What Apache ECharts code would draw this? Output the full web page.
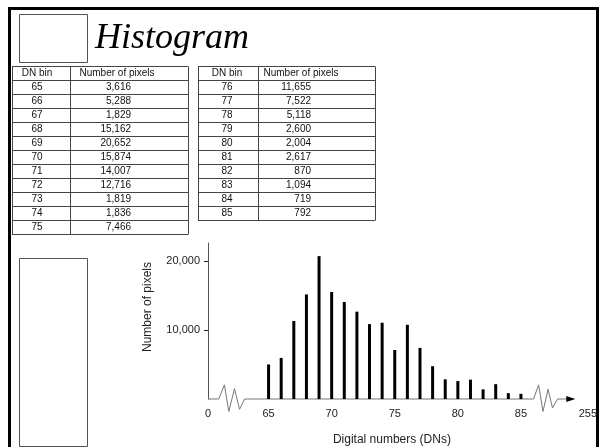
<!DOCTYPE html>
<html>
<head>
<meta charset="utf-8">
<script src="https://cdn.jsdelivr.net/npm/echarts@6.0.0/dist/echarts.min.js"></script>
<style>
body { margin: 0; background: #fff; }
#container { width: 600px; height: 447px; }
</style>
</head>
<body>
<div id="container"></div>
<script>
// bar heights
var dnBins = [65, 66, 67, 68, 69, 70, 71, 72, 73, 74, 75, 76, 77, 78, 79, 80, 81, 82, 83, 84, 85];
var pixelCounts = [5000, 5950, 11300, 15150, 20700, 15500, 14050, 12650, 10850, 11050, 7100, 10750, 7400, 4750, 2850, 2600, 2800, 1400, 2150, 850, 750];

// the two printed tables
var tableBinsLeft = [65, 66, 67, 68, 69, 70, 71, 72, 73, 74, 75];
var tableCountsLeft = [3616, 5288, 1829, 15162, 20652, 15874, 14007, 12716, 1819, 1836, 7466];
var tableBinsRight = [76, 77, 78, 79, 80, 81, 82, 83, 84, 85];
var tableCountsRight = [11655, 7522, 5118, 2600, 2004, 2617, 870, 1094, 719, 792];

// axis ticks (0 and 255 sit either side of the broken axis)
var xTickValues = [60.2, 65, 70, 75, 80, 85, 90.3];
var xTickLabels = ['0', '65', '70', '75', '80', '85', '255'];
var yTickValues = [10000, 20000];

// zigzag axis breaks
var breakLeft = [[61.05, 0], [61.5, 2050], [61.85, -1800], [62.3, 1500], [62.7, -1500], [63.1, 0]];
var breakRight = [[86.0, 0], [86.4, 2050], [86.75, -1800], [87.15, 1400], [87.5, -1300], [87.9, 0]];

var textFont = '"Liberation Sans", Arial, sans-serif';
var lineColor = '#444';

function fmt(v) {
	return v.toLocaleString('en-US');
}

function tableGraphics(x0, xDiv, x1, bins, counts, binX, valX, headX) {
	var top = 66, rowH = 14;
	var n = bins.length + 1;
	var els = [];
	for (var i = 0; i <= n; i++) {
		var y = Math.round(top + i * rowH) + 0.5;
		els.push({ type: 'line', shape: { x1: x0, y1: y, x2: x1, y2: y }, style: { stroke: lineColor, lineWidth: 1 } });
	}
	var bottom = Math.round(top + n * rowH) + 0.5;
	[x0, xDiv, x1].forEach(function (x) {
		els.push({ type: 'line', shape: { x1: x + 0.5, y1: top + 0.5, x2: x + 0.5, y2: bottom }, style: { stroke: lineColor, lineWidth: 1 } });
	});
	var headY = top + rowH / 2;
	els.push({ type: 'text', style: { x: binX, y: headY, text: 'DN bin', font: '10px ' + textFont, fill: '#111', align: 'center', verticalAlign: 'middle' } });
	els.push({ type: 'text', style: { x: headX, y: headY, text: 'Number of pixels', font: '10px ' + textFont, fill: '#111', align: 'center', verticalAlign: 'middle' } });
	for (var j = 0; j < bins.length; j++) {
		var cy = top + (j + 1.5) * rowH;
		els.push({ type: 'text', style: { x: binX, y: cy, text: String(bins[j]), font: '10px ' + textFont, fill: '#111', align: 'center', verticalAlign: 'middle' } });
		els.push({ type: 'text', style: { x: valX, y: cy, text: fmt(counts[j]), font: '10px ' + textFont, fill: '#111', align: 'right', verticalAlign: 'middle' } });
	}
	return els;
}

var barData = dnBins.map(function (d, i) { return [d, pixelCounts[i]]; });
var axisData = [[60.2, 0]].concat(breakLeft, breakRight, [{
	value: [88.95, 0], symbol: 'triangle', symbolSize: [6, 9], symbolRotate: -90,
	itemStyle: { color: '#000' }
}]);

var graphics = [];
graphics = graphics.concat(tableGraphics(12, 70, 188, tableBinsLeft, tableCountsLeft, 37, 131, 117));
graphics = graphics.concat(tableGraphics(198, 258, 375, tableBinsRight, tableCountsRight, 227, 311, 301));
graphics.push({ type: 'rect', shape: { x: 19.5, y: 14.5, width: 68, height: 48 }, style: { fill: '#fff', stroke: '#555', lineWidth: 1 } });
graphics.push({ type: 'rect', shape: { x: 19.5, y: 258.5, width: 68, height: 188 }, style: { fill: 'none', stroke: '#555', lineWidth: 1 } });
graphics.push({ type: 'text', style: { x: 95, y: 21, text: 'Histogram', font: 'italic 36px "Liberation Serif", "Times New Roman", serif', fill: '#000', verticalAlign: 'top' } });
graphics.push({ type: 'rect', z: 100, shape: { x: 9.5, y: 8.5, width: 588, height: 460 }, style: { fill: 'none', stroke: '#000', lineWidth: 3 } });

var option = {
	backgroundColor: '#fff',
	animation: false,
	grid: { left: 208, right: 8, top: 243, bottom: 38 },
	xAxis: {
		type: 'value',
		min: 60.2,
		max: 90.3,
		name: 'Digital numbers (DNs)',
		nameLocation: 'middle',
		nameGap: 35,
		nameTextStyle: { fontFamily: textFont, fontSize: 12, color: '#222', padding: [0, 12, 0, 0] },
		axisLine: { show: false },
		axisTick: { show: false },
		splitLine: { show: false },
		axisLabel: {
			customValues: xTickValues,
			margin: 9,
			fontFamily: textFont,
			fontSize: 11,
			color: '#222',
			formatter: function (v) {
				var i = xTickValues.indexOf(v);
				return i >= 0 ? xTickLabels[i] : '';
			}
		}
	},
	yAxis: {
		type: 'value',
		min: 0,
		max: 22600,
		name: 'Number of pixels',
		nameLocation: 'middle',
		nameGap: 54,
		nameTextStyle: { fontFamily: textFont, fontSize: 12, color: '#222', padding: [0, 0, 0, 28] },
		axisLine: { show: true, lineStyle: { color: '#555', width: 1 } },
		axisTick: { show: true, inside: false, length: 4, customValues: yTickValues, lineStyle: { color: '#222' } },
		splitLine: { show: false },
		axisLabel: {
			customValues: yTickValues,
			margin: 8,
			fontFamily: textFont,
			fontSize: 11,
			color: '#222',
			formatter: function (v) { return fmt(v); }
		}
	},
	series: [
		{
			type: 'line',
			data: axisData,
			symbol: 'none',
			showAllSymbol: true,
			clip: false,
			lineStyle: { color: '#777', width: 1 },
			z: 1
		},
		{
			type: 'bar',
			data: barData,
			barWidth: 3,
			itemStyle: { color: '#000' },
			z: 2
		}
	],
	graphic: { elements: graphics }
};

var myChart = echarts.init(document.getElementById('container'));
myChart.setOption(option);
</script>
</body>
</html>
